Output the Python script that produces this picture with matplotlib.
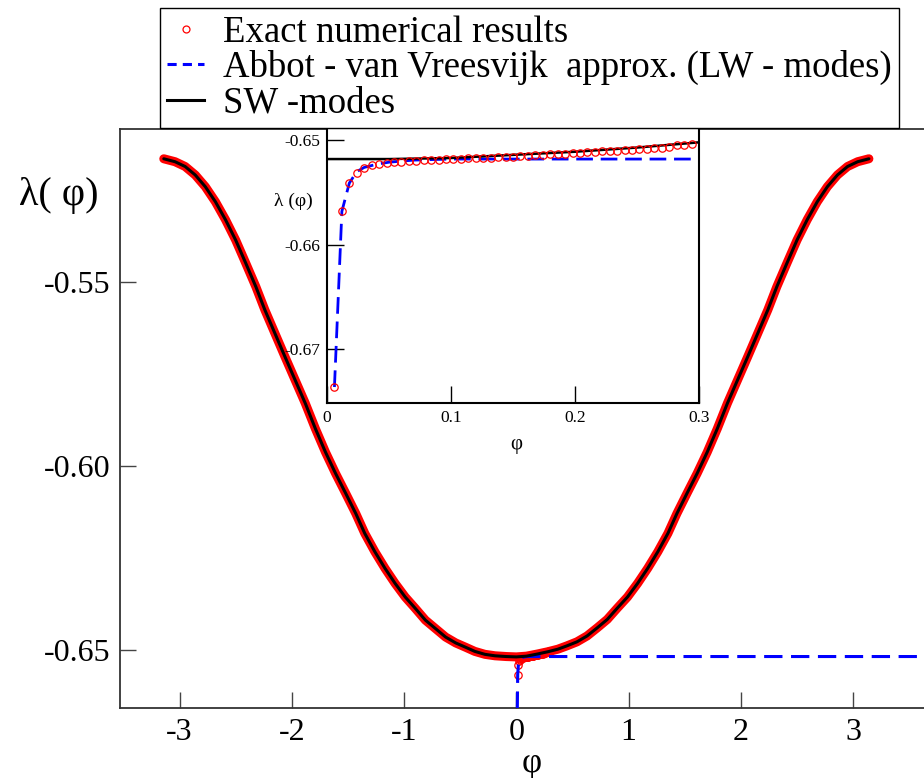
import numpy as np
import matplotlib.pyplot as plt
from matplotlib.lines import Line2D

plt.rcParams['font.family'] = ['Liberation Serif', 'DejaVu Serif']
plt.rcParams['axes.unicode_minus'] = False

# main curve (exact results and SW-modes overlap)
phi_main = [-3.14, -3.04, -2.95, -2.86, -2.77, -2.68, -2.59, -2.50, -2.41, -2.32,
            -2.24, -2.15, -2.06, -1.97, -1.88, -1.79, -1.70, -1.61, -1.52, -1.43,
            -1.35, -1.26, -1.17, -1.08, -0.99, -0.90, -0.81, -0.72, -0.63, -0.54,
            -0.45, -0.37, -0.28, -0.19, -0.09, 0.0,
            0.09, 0.19, 0.28, 0.37, 0.45, 0.54, 0.63, 0.72, 0.81, 0.90,
            0.99, 1.08, 1.17, 1.26, 1.35, 1.43, 1.52, 1.61, 1.70, 1.79,
            1.88, 1.97, 2.06, 2.15, 2.24, 2.32, 2.41, 2.50, 2.59, 2.68,
            2.77, 2.86, 2.95, 3.04, 3.14]
lam_main = [-0.5164, -0.5172, -0.5185, -0.5208, -0.5240, -0.5281, -0.5330, -0.5385, -0.5448, -0.5512,
            -0.5575, -0.5639, -0.5703, -0.5766, -0.5829, -0.5898, -0.5962, -0.6020, -0.6074, -0.6129,
            -0.6183, -0.6233, -0.6278, -0.6319, -0.6356, -0.6387, -0.6419, -0.6442, -0.6465, -0.6481,
            -0.6493, -0.6504, -0.6512, -0.6516, -0.6518, -0.6519,
            -0.6517, -0.6511, -0.6505, -0.6498, -0.6489, -0.6478, -0.6462, -0.6440, -0.6417, -0.6386,
            -0.6356, -0.6319, -0.6278, -0.6233, -0.6183, -0.6129, -0.6074, -0.6020, -0.5962, -0.5898,
            -0.5829, -0.5766, -0.5703, -0.5639, -0.5575, -0.5512, -0.5448, -0.5385, -0.5330, -0.5281,
            -0.5240, -0.5208, -0.5185, -0.5172, -0.5164]

# exact results at small phi (inset circles)
phi_small = [0.006, 0.012, 0.018, 0.024, 0.030, 0.036, 0.042, 0.048, 0.054, 0.060,
             0.066, 0.072, 0.078, 0.084, 0.090, 0.096, 0.102, 0.108, 0.114, 0.120,
             0.126, 0.132, 0.138, 0.144, 0.150, 0.156, 0.162, 0.168, 0.174, 0.180,
             0.186, 0.192, 0.198, 0.204, 0.210, 0.216, 0.222, 0.228, 0.234, 0.240,
             0.246, 0.252, 0.258, 0.264, 0.270, 0.276, 0.282, 0.288, 0.294]
lam_small = [-0.6736, -0.6568, -0.6541, -0.6531, -0.6527, -0.6524, -0.6523, -0.6522, -0.6521, -0.6521,
             -0.6520, -0.6520, -0.6519, -0.6519, -0.6519, -0.6518, -0.6518, -0.6518, -0.6517, -0.6517,
             -0.6517, -0.6517, -0.6516, -0.6516, -0.6516, -0.6515, -0.6515, -0.6514, -0.6514, -0.6513,
             -0.6513, -0.6513, -0.6512, -0.6512, -0.6511, -0.6511, -0.6510, -0.6510, -0.6510, -0.6509,
             -0.6509, -0.6508, -0.6508, -0.6507, -0.6507, -0.6506, -0.6505, -0.6505, -0.6504]

# SW-modes inside the inset
phi_sw = [0.0, 0.05, 0.10, 0.15, 0.20, 0.25, 0.30]
lam_sw = [-0.6518, -0.6518, -0.6517, -0.6514, -0.6511, -0.6507, -0.6502]

# Abbot - van Vreesvijk approximation
phi_av = [0.006, 0.012, 0.018, 0.024, 0.030, 0.040, 0.050, 0.070, 0.100, 0.300, 4.0]
lam_av = [-0.6736, -0.6568, -0.6541, -0.6530, -0.6526, -0.6523, -0.6521, -0.6519, -0.6518, -0.6518, -0.6518]

W, H = 924, 778
fig = plt.figure(figsize=(W/100, H/100), dpi=100)

ax = fig.add_axes([120/W, 1-708/H, (943-120)/W, (708-129)/H])
ax.plot(phi_main, lam_main, color='red', lw=6.5, solid_capstyle='round', zorder=2)
ax.plot(phi_small, lam_small, 'o', ms=5.3, mfc='none', mec='red', mew=0.9, zorder=2)
ax.plot(phi_av, lam_av, color='blue', lw=2.2, dashes=(6, 2.8), zorder=3)
ax.plot(phi_main, lam_main, color='black', lw=2.2, solid_capstyle='round', zorder=4)

ax.set_xlim(-3.53, 3.8)
ax.set_ylim(-0.6658, -0.5083)
ax.set_xticks([-3, -2, -1, 0, 1, 2, 3])
ax.set_yticks([-0.65, -0.60, -0.55])
ax.set_yticklabels(['-0.65', '-0.60', '-0.55'])
ax.tick_params(direction='in', length=11.5, width=1, color='#444444',
               labelsize=23, pad=7)
for s in ax.spines.values():
    s.set_linewidth(1.3)
    s.set_color('#333333')
ax.set_xlabel('φ', fontsize=25, labelpad=0)
ax.set_ylabel('λ( φ)', fontsize=29, rotation=0, ha='center', va='center')
ax.yaxis.set_label_coords(-0.074, 0.886)

# inset
ins = fig.add_axes([327/W, 1-402.7/H, 372/W, 274.7/H])
ins.plot(phi_av, lam_av, color='blue', lw=2.0, dashes=(6, 2.8), zorder=2)
ins.plot(phi_sw, lam_sw, color='black', lw=1.8, zorder=3)
ins.plot(phi_small, lam_small, 'o', ms=5.3, mfc='none', mec='red', mew=0.9, zorder=4)
ins.set_xlim(0, 0.3)
ins.set_ylim(-0.6751, -0.64883)
ins.set_xticks([0, 0.1, 0.2, 0.3])
ins.set_xticklabels(['0', '0.1', '0.2', '0.3'])
ins.set_yticks([-0.65, -0.66, -0.67])
ins.set_yticklabels(['-0.65', '-0.66', '-0.67'])
ins.tick_params(direction='in', length=12, width=1, labelsize=12.5, pad=5)
for s in ins.spines.values():
    s.set_linewidth(1.5)
ins.set_xlabel('φ', fontsize=15)
ins.xaxis.set_label_coords(0.51, -0.118)
ins.set_ylabel('λ (φ)', fontsize=14, rotation=0, ha='center', va='center')
ins.yaxis.set_label_coords(-0.091, 0.732)

handles = [
    Line2D([], [], ls='none', marker='o', ms=5, mfc='none', mec='red', mew=0.9),
    Line2D([], [], color='blue', lw=2.2, dashes=(3, 2)),
    Line2D([], [], color='black', lw=2.2),
]
labels = ['Exact numerical results',
          'Abbot - van Vreesvijk  approx. (LW - modes)',
          'SW -modes']
leg = fig.legend(handles, labels, loc='lower left',
                 bbox_to_anchor=(160/W, 1-128/H), fontsize=26.5,
                 frameon=True, fancybox=False, framealpha=1,
                 edgecolor='black', borderpad=0.2, labelspacing=0.02,
                 handlelength=1.0, handletextpad=0.5, borderaxespad=0)
leg.get_frame().set_linewidth(1.0)

fig.savefig('out.png', dpi=100)
